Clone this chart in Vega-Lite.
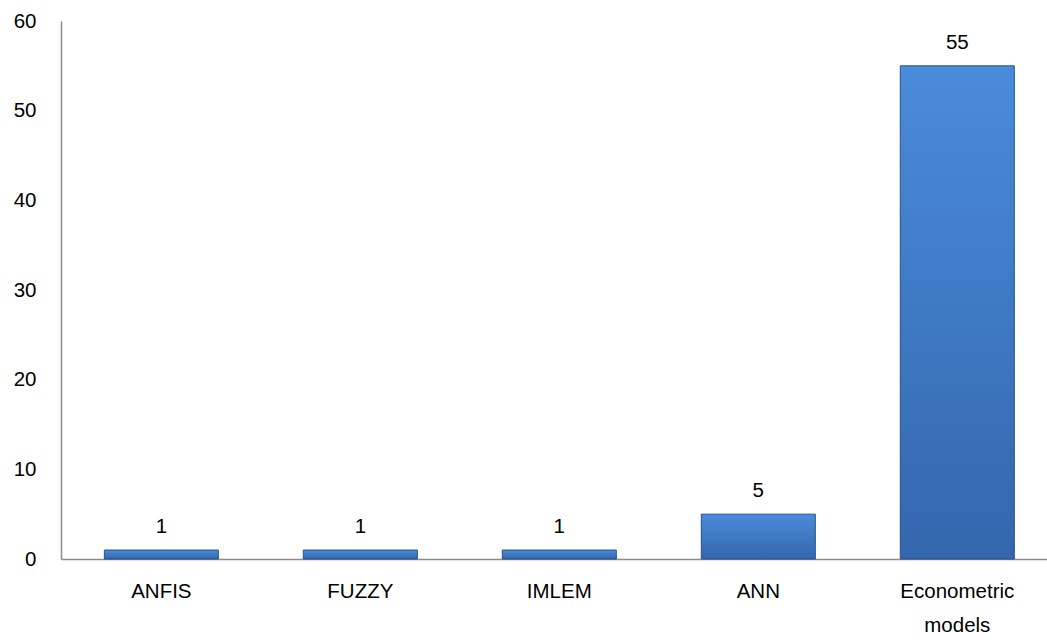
{
  "$schema": "https://vega.github.io/schema/vega-lite/v6.json",
  "width": 986,
  "height": 538,
  "autosize": {"type": "none"},
  "padding": {"left": 61, "top": 21, "right": 0, "bottom": 81},
  "background": "white",
  "config": {
    "view": {"stroke": null},
    "font": "Liberation Sans",
    "axis": {"labelFont": "Liberation Sans", "labelFontSize": 20.5, "labelColor": "#000000", "domainColor": "#8c8c8c", "domainWidth": 1.5, "ticks": false, "grid": false, "title": null}
  },
  "data": {
    "values": [
      {"method": "ANFIS", "count": 1},
      {"method": "FUZZY", "count": 1},
      {"method": "IMLEM", "count": 1},
      {"method": "ANN", "count": 5},
      {"method": "Econometric models", "count": 55}
    ]
  },
  "encoding": {
    "x": {
      "field": "method",
      "type": "nominal",
      "sort": null,
      "scale": {"paddingInner": 0.427, "paddingOuter": 0.191, "align": 0.57},
      "axis": {
        "labelAngle": 0,
        "labelPadding": 22,
        "labelLineHeight": 34,
        "labelBaseline": "top",
        "labelExpr": "datum.value == 'Econometric models' ? ['Econometric', 'models'] : datum.value"
      }
    },
    "y": {
      "field": "count",
      "type": "quantitative",
      "scale": {"domain": [0, 60], "nice": false},
      "axis": {"values": [0, 10, 20, 30, 40, 50, 60], "labelPadding": 25}
    }
  },
  "layer": [
    {
      "mark": {
        "type": "bar",
        "stroke": "#24518c",
        "strokeWidth": 1,
        "color": {
          "gradient": "linear",
          "x1": 0, "y1": 0, "x2": 0, "y2": 1,
          "stops": [
            {"offset": 0, "color": "#4a8bda"},
            {"offset": 1, "color": "#3466ad"}
          ]
        }
      }
    },
    {
      "mark": {"type": "text", "baseline": "bottom", "dy": -13, "fontSize": 20.5, "color": "#000000", "font": "Liberation Sans"},
      "encoding": {"text": {"field": "count", "type": "quantitative"}}
    }
  ]
}
